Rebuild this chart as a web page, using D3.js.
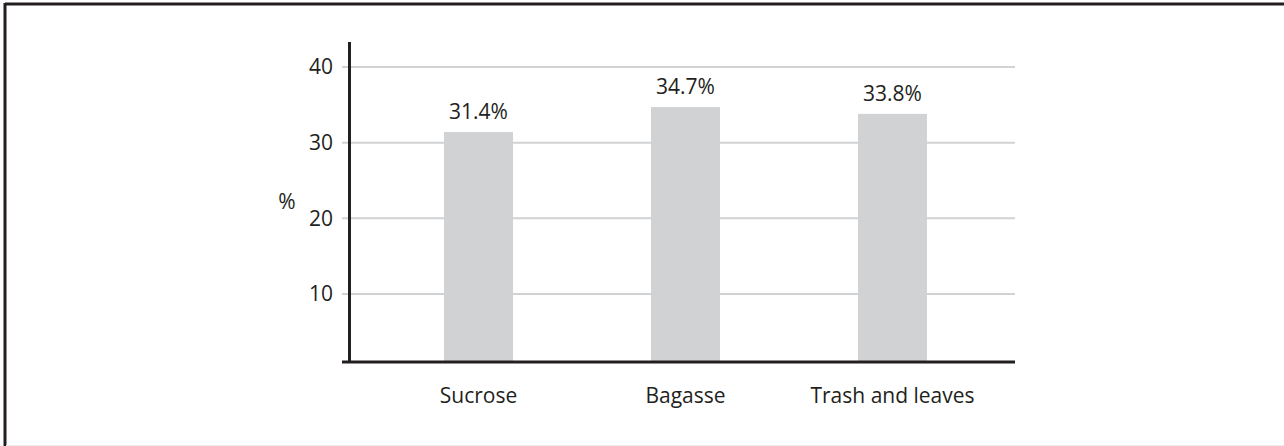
<!DOCTYPE html>
<html>
<head>
<meta charset="utf-8">
<script src="https://cdn.jsdelivr.net/npm/d3@7"></script>
<style>
  body { margin: 0; background: #fff; }
  text { font-family: "Open Sans", sans-serif; fill: #231f20; }
</style>
</head>
<body>
<div id="chart"></div>
<script>
const categories = ["Sucrose", "Bagasse", "Trash and leaves"];
const shares = [31.4, 34.7, 33.8];
const yTicks = [10, 20, 30, 40];

const width = 1284, height = 446;
const fontSize = 21;

const svg = d3.select("#chart")
    .append("svg")
    .attr("width", width)
    .attr("height", height);

// frame
svg.append("line").attr("x1", 5).attr("x2", width).attr("y1", 4).attr("y2", 4)
    .attr("stroke", "#231f20").attr("stroke-width", 3);
svg.append("line").attr("x1", 5).attr("x2", 5).attr("y1", 3).attr("y2", height)
    .attr("stroke", "#231f20").attr("stroke-width", 3);
svg.append("line").attr("x1", 6).attr("x2", width).attr("y1", 445.5).attr("y2", 445.5)
    .attr("stroke", "#eeeeee").attr("stroke-width", 1);

const xScale = d3.scaleBand()
    .domain(categories)
    .range([375, 996])
    .paddingInner(2 / 3)
    .paddingOuter(1 / 3);

const yScale = d3.scaleLinear()
    .domain([0, 40])
    .range([369.5, 67]);

const baseY = 362;
const axisX = 349.5;

// grid lines
svg.append("g")
    .selectAll("line")
    .data(yTicks)
    .join("line")
    .attr("x1", 342)
    .attr("x2", 1015)
    .attr("y1", d => yScale(d))
    .attr("y2", d => yScale(d))
    .attr("stroke", "#d1d2d4")
    .attr("stroke-width", 2);

// bars
svg.append("g")
    .selectAll("rect")
    .data(shares)
    .join("rect")
    .attr("x", (d, i) => xScale(categories[i]))
    .attr("width", xScale.bandwidth())
    .attr("y", d => yScale(d))
    .attr("height", d => baseY - yScale(d))
    .attr("fill", "#d1d2d4");

// value labels
svg.append("g")
    .selectAll("text")
    .data(shares)
    .join("text")
    .attr("x", (d, i) => xScale(categories[i]) + xScale.bandwidth() / 2)
    .attr("y", d => yScale(d) - 13)
    .attr("text-anchor", "middle")
    .attr("font-size", fontSize)
    .text(d => d.toFixed(1) + "%");

// y tick labels
svg.append("g")
    .selectAll("text")
    .data(yTicks)
    .join("text")
    .attr("x", 333)
    .attr("y", d => yScale(d))
    .attr("dy", "0.35em")
    .attr("text-anchor", "end")
    .attr("font-size", fontSize)
    .text(d => d);

// axes lines
svg.append("line")
    .attr("x1", axisX).attr("x2", axisX)
    .attr("y1", 42).attr("y2", baseY)
    .attr("stroke", "#231f20").attr("stroke-width", 3);
svg.append("line")
    .attr("x1", 342).attr("x2", 1015)
    .attr("y1", baseY).attr("y2", baseY)
    .attr("stroke", "#231f20").attr("stroke-width", 3);

// category labels
svg.append("g")
    .selectAll("text")
    .data(categories)
    .join("text")
    .attr("x", d => xScale(d) + xScale.bandwidth() / 2)
    .attr("y", 403)
    .attr("text-anchor", "middle")
    .attr("font-size", fontSize)
    .text(d => d);

// y axis title
svg.append("text")
    .attr("x", 287)
    .attr("y", 209)
    .attr("text-anchor", "middle")
    .attr("font-size", fontSize)
    .text("%");
</script>
</body>
</html>
